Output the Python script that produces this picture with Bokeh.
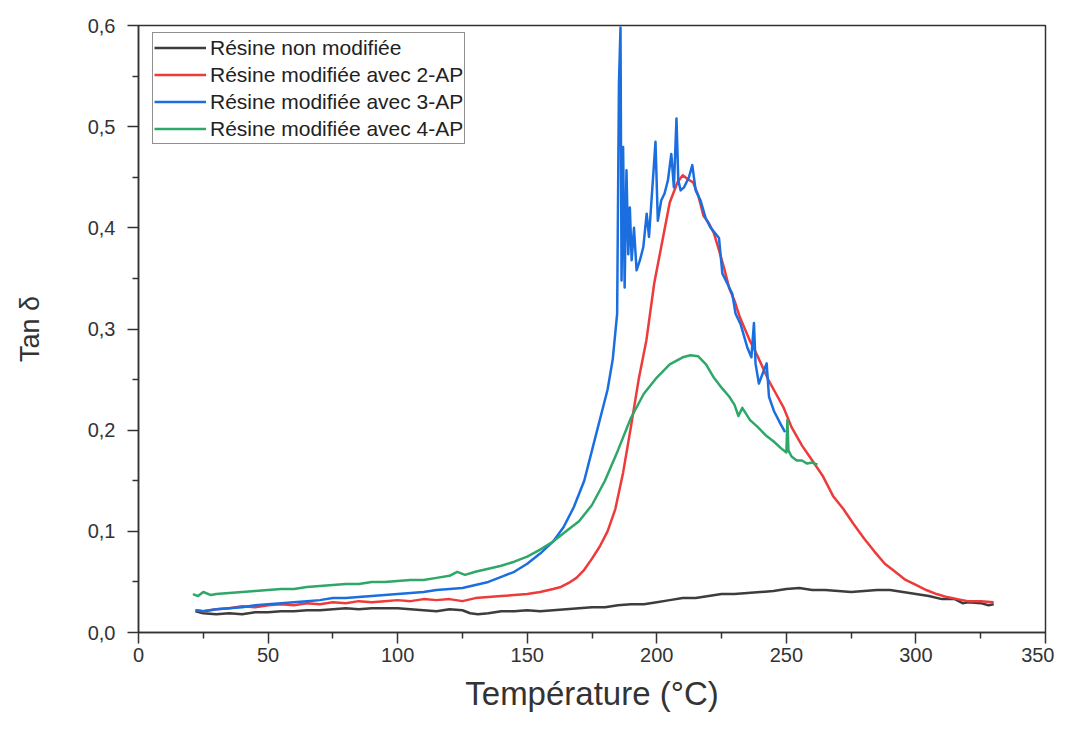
from bokeh.plotting import figure
from bokeh.models import FixedTicker, CustomJSTickFormatter, Legend, LegendItem, Range1d
from bokeh.embed import file_html
from bokeh.resources import INLINE

# ---------------- data ----------------
series_names = [
    "Résine non modifiée",
    "Résine modifiée avec 2-AP",
    "Résine modifiée avec 3-AP",
    "Résine modifiée avec 4-AP",
]

T_black = [22, 25, 30, 35, 40, 45, 50, 55, 60, 65, 70, 75, 80, 85, 90, 95, 100, 105, 110, 115,
           120, 125, 128, 131, 135, 140, 145, 150, 155, 160, 165, 170, 175, 180, 185, 190, 195, 200, 205, 210,
           215, 220, 225, 230, 235, 240, 245, 250, 255, 260, 265, 270, 275, 280, 285, 290, 295, 300, 305, 310,
           315, 318, 320, 325, 328, 330]
v_black = [0.021, 0.019, 0.018, 0.019, 0.018, 0.020, 0.020, 0.021, 0.021, 0.022,
           0.022, 0.023, 0.024, 0.023, 0.024, 0.024, 0.024, 0.023, 0.022, 0.021,
           0.023, 0.022, 0.019, 0.018, 0.019, 0.021, 0.021, 0.022, 0.021, 0.022,
           0.023, 0.024, 0.025, 0.025, 0.027, 0.028, 0.028, 0.030, 0.032, 0.034,
           0.034, 0.036, 0.038, 0.038, 0.039, 0.040, 0.041, 0.043, 0.044, 0.042,
           0.042, 0.041, 0.040, 0.041, 0.042, 0.042, 0.040, 0.038, 0.036, 0.033,
           0.033, 0.029, 0.030, 0.029, 0.027, 0.028]

T_red = [22, 25, 30, 35, 40, 45, 50, 55, 60, 65, 70, 75, 80, 85, 90, 95, 100, 105, 110, 115,
         120, 125, 130, 135, 140, 145, 150, 155, 160, 163, 166, 169, 172, 175, 178, 181, 184, 187, 190, 193,
         196, 199, 202, 205, 208, 210, 212, 214, 216, 218, 220, 222, 224, 226, 228, 230, 232, 234, 236, 238,
         240, 243, 246, 249, 252, 256, 260, 264, 268, 272, 276, 280, 284, 288, 292, 296, 300, 304, 308, 312,
         316, 320, 325, 330]
v_red = [0.022, 0.021, 0.023, 0.024, 0.026, 0.025, 0.027, 0.028, 0.027, 0.029,
         0.028, 0.030, 0.029, 0.031, 0.030, 0.031, 0.032, 0.031, 0.033, 0.032,
         0.033, 0.031, 0.034, 0.035, 0.036, 0.037, 0.038, 0.040, 0.043, 0.045,
         0.049, 0.054, 0.062, 0.073, 0.085, 0.100, 0.122, 0.158, 0.203, 0.250,
         0.289, 0.345, 0.385, 0.425, 0.445, 0.452, 0.448, 0.445, 0.432, 0.412,
         0.405, 0.395, 0.378, 0.360, 0.340, 0.328, 0.312, 0.300, 0.288, 0.278,
         0.267, 0.250, 0.236, 0.222, 0.203, 0.185, 0.170, 0.155, 0.135, 0.122,
         0.107, 0.093, 0.080, 0.068, 0.060, 0.052, 0.047, 0.042, 0.038, 0.035,
         0.033, 0.031, 0.031, 0.030]

T_blue = [22, 25, 30, 35, 40, 45, 50, 55, 60, 65, 70, 75, 80, 85, 90, 95, 100, 105, 110, 115,
          120, 125, 130, 135, 140, 145, 150, 155, 160, 164, 168, 172, 175, 178, 181, 183, 184.7, 185.4, 186.0, 186.4,
          187.0, 187.6, 188.3, 189.0, 189.6, 190.3, 191.2, 192.2, 193.5, 194.8, 196.1, 197.0, 198.3, 199.5, 200.4,
          201.7, 203.0, 204.3, 205.6, 206.6, 207.6, 208.3, 209.2, 210.5, 212.4, 213.7, 215.0, 216.9, 218.8, 220.8,
          222.7, 224.0, 225.3, 227.2, 229.1, 230.4, 232.3, 234.9, 236.5, 237.5, 238.1, 239.4, 241.3, 242.4, 243.3,
          245.2, 247.8, 249.5]
v_blue = [0.022, 0.021, 0.023, 0.024, 0.025, 0.027, 0.028, 0.029, 0.030, 0.031,
          0.032, 0.034, 0.034, 0.035, 0.036, 0.037, 0.038, 0.039, 0.040, 0.042,
          0.043, 0.044, 0.047, 0.050, 0.055, 0.060, 0.068, 0.078, 0.090, 0.104,
          0.124, 0.150, 0.180, 0.210, 0.240, 0.270, 0.315, 0.543, 0.598, 0.348,
          0.480, 0.341, 0.457, 0.374, 0.420, 0.368, 0.400, 0.358, 0.368, 0.381,
          0.414, 0.391, 0.440, 0.485, 0.407, 0.427, 0.434, 0.447, 0.473, 0.440,
          0.508, 0.447, 0.437, 0.440, 0.450, 0.462, 0.437, 0.427, 0.410, 0.400,
          0.394, 0.390, 0.355, 0.345, 0.335, 0.315, 0.305, 0.282, 0.272, 0.306,
          0.266, 0.246, 0.259, 0.266, 0.233, 0.219, 0.206, 0.198]

T_green = [21, 23, 25, 28, 30, 35, 40, 45, 50, 55, 60, 65, 70, 75, 80, 85, 90, 95, 100, 105,
           110, 115, 120, 123, 126, 130, 135, 140, 145, 150, 155, 160, 165, 170, 175, 180, 185, 190, 195, 200,
           205, 210, 213, 216, 219, 222, 225, 228, 230, 231.5, 233, 236, 239, 242, 245, 248, 250, 250.4, 250.8, 252,
           254, 256, 258, 260, 262]
v_green = [0.038, 0.036, 0.040, 0.037, 0.038, 0.039, 0.040, 0.041, 0.042, 0.043,
           0.043, 0.045, 0.046, 0.047, 0.048, 0.048, 0.050, 0.050, 0.051, 0.052,
           0.052, 0.054, 0.056, 0.060, 0.057, 0.060, 0.063, 0.066, 0.070, 0.075,
           0.082, 0.090, 0.100, 0.110, 0.126, 0.150, 0.180, 0.212, 0.236, 0.252,
           0.265, 0.272, 0.274, 0.273, 0.265, 0.252, 0.242, 0.233, 0.225, 0.214,
           0.222, 0.210, 0.203, 0.195, 0.189, 0.182, 0.178, 0.210, 0.180, 0.174,
           0.170, 0.170, 0.167, 0.168, 0.166]

x_ticks = [0, 50, 100, 150, 200, 250, 300, 350]
x_minor = [25, 75, 125, 175, 225, 275, 325]
y_ticks = [0.0, 0.1, 0.2, 0.3, 0.4, 0.5, 0.6]
y_minor = [0.05, 0.15, 0.25, 0.35, 0.45, 0.55]

colors = ["#3d3d3d", "#ee3a3a", "#1b6ee0", "#2ea868"]

# ---------------- figure ----------------
FONT = "Liberation Sans"
AX = "#333333"

p = figure(width=1054, height=719, output_backend="svg", toolbar_location=None,
           x_range=Range1d(0, 350), y_range=Range1d(0, 0.6),
           min_border_left=138, min_border_right=9, min_border_top=25, min_border_bottom=87,
           background_fill_color="white", border_fill_color="white")

p.xgrid.visible = False
p.ygrid.visible = False
p.outline_line_color = AX
p.outline_line_width = 1.5
p.outline_line_alpha = 1.0

p.xaxis.ticker = FixedTicker(ticks=x_ticks, minor_ticks=x_minor)
p.yaxis.ticker = FixedTicker(ticks=y_ticks, minor_ticks=y_minor)
p.yaxis.formatter = CustomJSTickFormatter(code="return tick.toFixed(1).replace('.', ',');")

for ax in (p.xaxis[0], p.yaxis[0]):
    ax.axis_line_color = AX
    ax.axis_line_width = 1.5
    ax.major_tick_line_color = AX
    ax.major_tick_line_width = 1.5
    ax.minor_tick_line_color = AX
    ax.minor_tick_line_width = 1.5
    ax.major_tick_in = 0
    ax.major_tick_out = 11
    ax.minor_tick_in = 0
    ax.minor_tick_out = 6
    ax.major_label_text_font = FONT
    ax.major_label_text_font_size = "20px"
    ax.major_label_text_color = AX
    ax.axis_label_text_font = FONT
    ax.axis_label_text_font_style = "normal"
    ax.axis_label_text_color = AX

p.xaxis.axis_label = "Température (°C)"
p.xaxis.axis_label_text_font_size = "33px"
p.xaxis.axis_label_standoff = 10
p.xaxis.major_label_standoff = 4

p.yaxis.axis_label = "Tan δ"
p.yaxis.axis_label_text_font_size = "27px"
p.yaxis.axis_label_standoff = 40
p.yaxis.major_label_standoff = 12

data = [(T_black, v_black), (T_red, v_red), (T_blue, v_blue), (T_green, v_green)]
renderers = []
for (xs, ys), c in zip(data, colors):
    r = p.line(xs, ys, line_color=c, line_width=2.5, line_join="round")
    renderers.append(r)

legend = Legend(items=[LegendItem(label=n, renderers=[r]) for n, r in zip(series_names, renderers)],
                location=(14, 488))
legend.label_text_font = FONT
legend.label_text_font_size = "21px"
legend.label_text_color = "#222222"
legend.glyph_width = 52
legend.glyph_height = 27
legend.label_height = 27
legend.spacing = 0
legend.padding = 1
legend.margin = 0
legend.label_standoff = 4
legend.border_line_color = "#222222"
legend.border_line_width = 1
legend.background_fill_alpha = 1.0
p.add_layout(legend)

open("out.html", "w").write(file_html(p, INLINE))
